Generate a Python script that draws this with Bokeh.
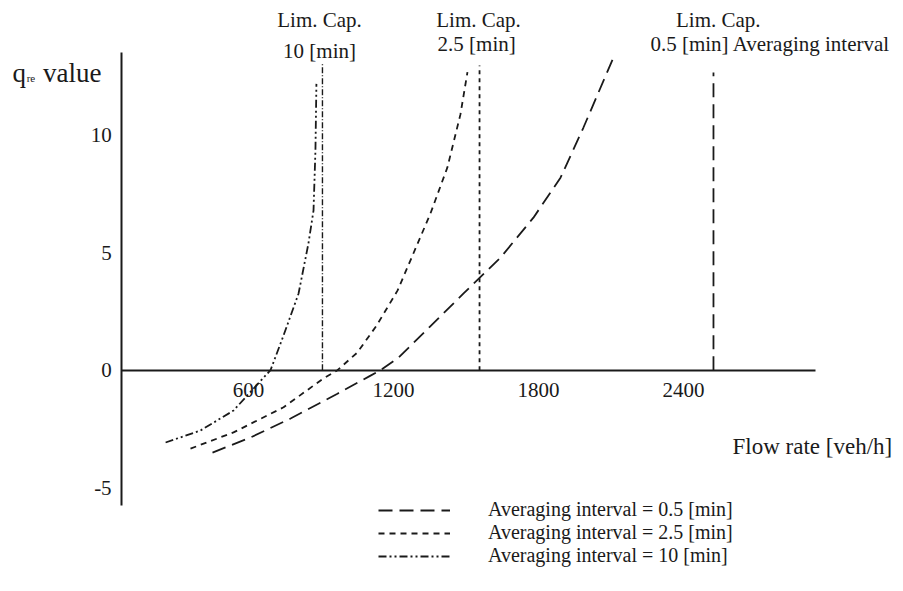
from bokeh.plotting import figure
from bokeh.models import (Range1d, LinearAxis, FixedTicker, Label, Legend, LegendItem)
from bokeh.embed import file_html
from bokeh.resources import INLINE

# ---- data ----
flow_05 = [451, 608, 774, 968, 1105, 1146, 1221, 1350, 1490, 1643, 1779, 1891, 1986, 2110]
q_05 = [-3.51, -2.87, -2.06, -1.0, -0.23, 0.0, 0.54, 1.85, 3.27, 4.80, 6.50, 8.20, 10.34, 13.32]

flow_25 = [360, 538, 745, 910, 968, 1050, 1130, 1217, 1353, 1423, 1477, 1506]
q_25 = [-3.34, -2.65, -1.58, -0.35, 0.0, 0.75, 1.9, 3.4, 6.68, 8.64, 10.9, 12.7]

flow_10 = [257, 401, 538, 670, 691, 745, 807, 848, 869, 877, 881]
q_10 = [-3.08, -2.57, -1.72, -0.23, 0.0, 1.48, 3.26, 5.4, 6.8, 9.36, 12.2]

lim_cap_flow = [2524, 1556, 906]      # 0.5, 2.5, 10 [min]
lim_cap_top = [12.68, 12.98, 13.06]

x_ticks = [600, 1200, 1800, 2400]
y_ticks = [-5, 0, 5, 10]
y_tick_labels = {-5: "-5", 0: "0", 5: "5", 10: "10"}

legend_labels = ["Averaging interval = 0.5 [min]",
                 "Averaging interval = 2.5 [min]",
                 "Averaging interval = 10 [min]"]

ink = "#1a1a1a"
serif = "Liberation Serif"

p = figure(width=903, height=591, output_backend="svg", toolbar_location=None,
           x_range=Range1d(-426.2, 3310.3), y_range=Range1d(-9.429, 15.752),
           x_axis_type=None, y_axis_type=None, min_border=0)
p.outline_line_color = None
p.background_fill_color = "white"
p.border_fill_color = "white"

xaxis = LinearAxis(fixed_location=0, bounds=(75, 2946), ticker=FixedTicker(ticks=x_ticks))
yaxis = LinearAxis(fixed_location=75, bounds=(-5.76, 13.54), ticker=FixedTicker(ticks=y_ticks))
for ax in (xaxis, yaxis):
    ax.axis_line_color = ink
    ax.axis_line_width = 2
    ax.major_tick_line_color = None
    ax.minor_tick_line_color = None
    ax.major_tick_out = 0
    ax.major_tick_in = 0
    ax.major_label_text_font = serif
    ax.major_label_text_font_size = "21px"
    ax.major_label_text_color = ink
yaxis.major_label_overrides = y_tick_labels
xaxis.major_label_standoff = 13
yaxis.major_label_standoff = 10
p.add_layout(xaxis, "below")
p.add_layout(yaxis, "left")

dash_05 = "14 7"
dash_25 = "6 5"
dash_10 = "8 3 2 3 2 3"

r05 = p.line(flow_05, q_05, line_color=ink, line_width=1.8, line_dash=dash_05)
r25 = p.line(flow_25, q_25, line_color=ink, line_width=1.8, line_dash=dash_25)
r10 = p.line(flow_10, q_10, line_color=ink, line_width=1.8, line_dash=dash_10)

# limiting-capacity lines
for fx, top, dash, lw in zip(lim_cap_flow, lim_cap_top, [dash_05, "4 4", "6 2 1 2"], [1.8, 1.8, 1.4]):
    p.line([fx, fx], [0, top], line_color=ink, line_width=lw, line_dash=dash)

def lab(x, y, text, size="21px", align="center"):
    p.add_layout(Label(x=x, y=y, text=text, text_font=serif, text_font_size=size,
                       text_align=align, text_baseline="middle", text_color=ink))

# Lim. Cap. annotations
lab(lim_cap_flow[2] - 12, 14.9, "Lim. Cap.")
lab(lim_cap_flow[2] - 12, 13.58, "10 [min]")
lab(lim_cap_flow[1] - 4, 14.9, "Lim. Cap.")
lab(lim_cap_flow[1] - 12, 13.88, "2.5 [min]")
lab(lim_cap_flow[0] + 20, 14.9, "Lim. Cap.")
lab(2263, 13.88, "0.5 [min] Averaging interval", align="left")

# axis titles
lab(-377, 12.68, "q", size="27px", align="left")
lab(-318, 12.45, "re", size="11px", align="left")
lab(-250, 12.68, "value", size="27px", align="left")
lab(2603, -3.27, "Flow rate [veh/h]", size="23px", align="left")

legend = Legend(items=[LegendItem(label=legend_labels[0], renderers=[r05]),
                       LegendItem(label=legend_labels[1], renderers=[r25]),
                       LegendItem(label=legend_labels[2], renderers=[r10])],
                location=(378, 24), orientation="vertical",
                glyph_width=72, glyph_height=18, label_height=18, label_standoff=38,
                spacing=-2, padding=0, margin=0,
                label_text_font=serif, label_text_font_size="20px",
                label_text_color=ink, label_text_line_height=0.9,
                border_line_color=None, background_fill_alpha=0)
p.add_layout(legend)

open("out.html", "w").write(file_html(p, INLINE))
